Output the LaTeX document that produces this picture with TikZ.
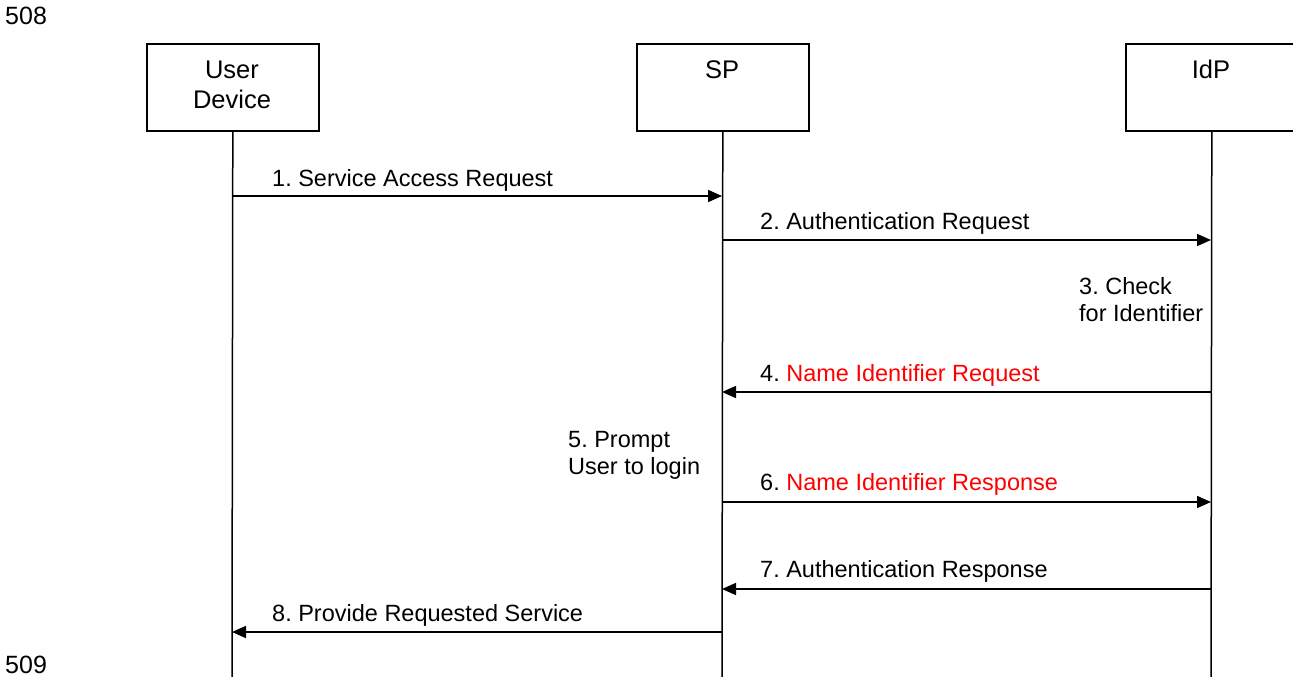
\documentclass[tikz,border=0pt]{standalone}
\usepackage{fontspec}
\setmainfont{Liberation Sans}
\usetikzlibrary{arrows.meta}
\definecolor{msgred}{RGB}{255,0,0}
\frenchspacing
\begin{document}
\begin{tikzpicture}[x=1pt,y=-1pt,
  actor/.style={draw,line width=1.6pt,minimum width=172pt,minimum height=87pt,anchor=north west,inner sep=0pt},
  actext/.style={anchor=base,inner sep=0pt,align=center,font=\fontsize{25.5}{30}\selectfont},
  life/.style={line width=1.5pt},
  msg/.style={line width=1.7pt,-{Triangle[length=14pt,width=12pt]}},
  lbl/.style={anchor=base west,inner sep=0pt,font=\fontsize{23.5}{26.5}\selectfont,align=left},
  fig/.style={anchor=base west,inner sep=0pt,font=\fontsize{25}{28}\selectfont}]
\useasboundingbox (0,0) rectangle (1293,677);
\node[fig] (n508) at (5,25) {508};
\node[fig] (n509) at (5,673) {509};
% actors
\node[actor] (ud) at (146,43) {};
\node[actor] (sp) at (636,43) {};
\node[actor] (idp) at (1125,43) {};
\node[actext] (udt) at (232,108) {User\\Device};
\node[actext] (spt) at (722,78) {SP};
\node[actext] (idpt) at (1211,78) {IdP};
% lifeline ends
\coordinate (udE) at (232,677);
\coordinate (spE) at (722,677);
\coordinate (idpE) at (1211,677);
\draw[life] (ud.south) -- (udE);
\draw[life] (sp.south) -- (spE);
\draw[life] (idp.south) -- (idpE);
% message points
\coordinate (u1) at (232,196); \coordinate (s1) at (722,196);
\coordinate (s2) at (722,240); \coordinate (i2) at (1211,240);
\coordinate (i4) at (1211,392); \coordinate (s4) at (722,392);
\coordinate (s6) at (722,502); \coordinate (i6) at (1211,502);
\coordinate (i7) at (1211,589); \coordinate (s7) at (722,589);
\coordinate (s8) at (722,632); \coordinate (u8) at (232,632);
\draw[msg] (u1) -- (s1);
\draw[msg] (s2) -- (i2);
\draw[msg] (i4) -- (s4);
\draw[msg] (s6) -- (i6);
\draw[msg] (i7) -- (s7);
\draw[msg] (s8) -- (u8);
% labels
\node[lbl] (l1) at (272,186) {1. Service Access Request};
\node[lbl] (l2) at (760,229) {2. Authentication Request};
\node[lbl] (l3) at (1079,321) {3. Check\\for Identifier};
\node[lbl] (l4) at (760,381) {4. \textcolor{msgred}{Name Identifier Request}};
\node[lbl] (l5) at (568,474) {5. Prompt\\User to login};
\node[lbl] (l6) at (760,490) {6. \textcolor{msgred}{Name Identifier Response}};
\node[lbl] (l7) at (760,577) {7. Authentication Response};
\node[lbl] (l8) at (272,621) {8. Provide Requested Service};
\end{tikzpicture}
\end{document}
